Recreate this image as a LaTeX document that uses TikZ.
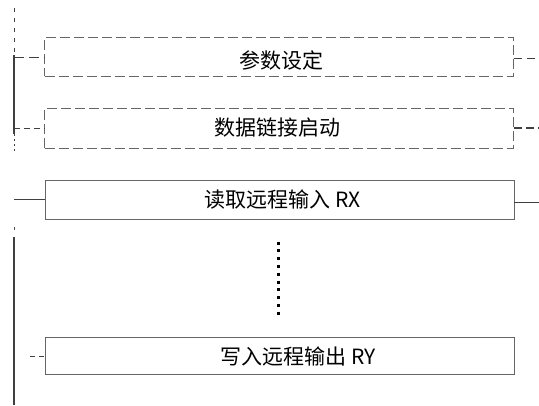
\documentclass[tikz,border=0pt]{standalone}
\usepackage{fontspec}
\setmainfont{Noto Sans CJK SC}
\begin{document}
\begin{tikzpicture}[x=1pt,y=-1pt,
  boxline/.style={draw=black!60, line width=1pt},
  dashline/.style={draw=black!60, line width=1pt, dash pattern=on 10pt off 4pt},
  stepbox/.style={minimum width=469pt, inner sep=0pt, outer sep=0pt},
  lbl/.style={font=\fontsize{21}{23}\selectfont, inner sep=0pt, text=black},
  wire/.style={draw=black!75, line width=1pt}]
\useasboundingbox (0,0) rectangle (539,405);
\fill[white] (0,0) rectangle (539,405);
% boxes
\node[stepbox, dashline, minimum height=39pt] (b1) at (279,56.5) {};
\node[stepbox, dashline, minimum height=40pt] (b2) at (279,128) {};
\node[stepbox, boxline, minimum height=39pt] (b3) at (279.5,199.5) {};
\node[stepbox, boxline, minimum height=37pt] (b4) at (279.5,355.5) {};
% labels
\node[lbl] (t1) at (281,60) {参数设定};
\node[lbl] (t2) at (277,127.5) {数据链接启动};
\node[lbl] (t3) at (282.5,200) {读取远程输入 RX};
\node[lbl] (t4) at (298.5,356.5) {写入远程输出 RY};
% rail coordinates
\coordinate (r0) at (14,8);
\coordinate (ra) at (14,55);
\coordinate (r1) at (14,57);
\coordinate (r2) at (14,128);
\coordinate (rb) at (14,134);
\coordinate (rc) at (14,152);
\coordinate (r3) at (14,199);
\coordinate (rd) at (14,237);
\coordinate (re) at (14,405);
\coordinate (r4) at (30,356);
\coordinate (q1) at (539,58);
\coordinate (q2) at (539,128);
\coordinate (q3) at (539,202);
% left rail
\draw[wire, dash pattern=on 4pt off 6pt] (r0) -- (ra);
\draw[wire, line width=1.3pt] (ra) -- (rb);
\draw[wire, dash pattern=on 2pt off 3pt] (rb) -- (rc);
\draw[wire, line width=1.3pt] (rd) -- (re);
\fill[black!70] (13.5,227) rectangle (14.5,230);
% left connectors
\draw[wire, dash pattern=on 10pt off 5pt] (r1) -- (b1.west |- r1);
\draw[wire, dash pattern=on 6pt off 4pt] (r2) -- (b2.west |- r2);
\draw[wire] (r3) -- (b3.west |- r3);
\draw[wire, dash pattern=on 5pt off 4pt] (r4) -- (b4.west |- r4);
% right connectors
\draw[wire, dash pattern=on 8pt off 5pt] (b1.east |- q1) -- (q1);
\draw[wire, line width=1.4pt, dash pattern=on 8pt off 4pt] (b2.east |- q2) -- (q2);
\draw[wire] (b3.east |- q3) -- (q3);
% continuation dots
\coordinate (d0) at (278,241.5);
\coordinate (d1) at (278,315);
\draw[black, line width=3pt, dash pattern=on 3pt off 4.8pt] (d0) -- (d1);
\end{tikzpicture}
\end{document}
